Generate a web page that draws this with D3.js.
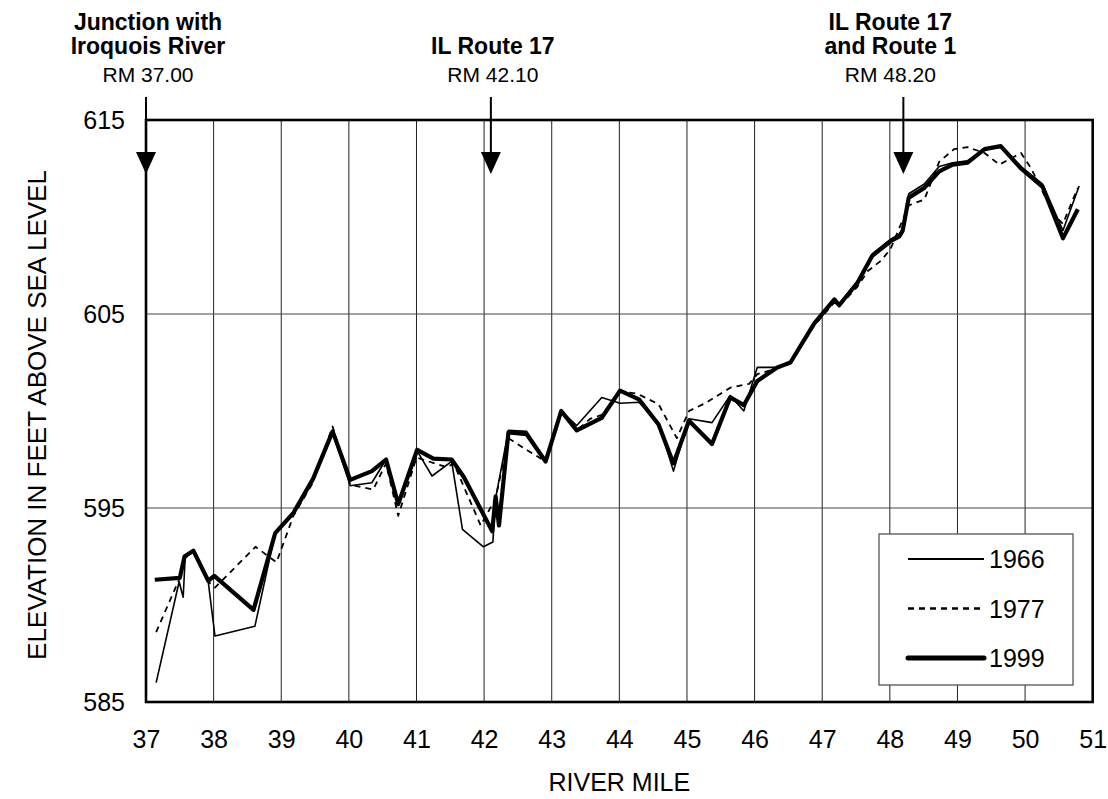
<!DOCTYPE html>
<html>
<head>
<meta charset="utf-8">
<script src="https://cdn.jsdelivr.net/npm/d3@7"></script>
<style>
  body { margin: 0; background: #fff; }
  svg text { font-family: "Liberation Sans", Arial, Helvetica, sans-serif; fill: #000; }
</style>
</head>
<body>
<main></main>
<script>
// river mile / elevation pairs
const profile1966 = [
    [37.15, 586.0], [37.49, 591.2], [37.55, 590.4], [37.58, 592.5], [37.70, 592.8], [37.92, 591.2],
    [38.02, 588.4], [38.61, 588.9], [38.91, 593.7], [39.18, 594.75], [39.47, 596.5], [39.76, 598.9],
    [40.02, 596.15], [40.34, 596.3], [40.55, 597.5], [40.73, 595.2], [41.00, 598.0], [41.23, 596.65],
    [41.52, 597.4], [41.68, 593.9], [41.99, 593.0], [42.13, 593.25], [42.17, 595.5], [42.36, 599.0],
    [42.63, 598.95], [42.91, 597.4], [43.14, 600.0], [43.37, 599.25], [43.74, 600.7], [44.01, 600.4],
    [44.29, 600.45], [44.58, 599.4], [44.80, 596.9], [45.03, 599.6], [45.37, 599.4], [45.64, 600.8],
    [45.84, 600.0], [46.04, 602.25], [46.34, 602.25], [46.53, 602.55], [46.88, 604.5], [47.18, 605.8],
    [47.25, 605.5], [47.52, 606.7], [47.74, 608.1], [48.01, 608.85], [48.14, 609.1], [48.19, 609.4],
    [48.28, 611.2], [48.51, 611.7], [48.73, 612.6], [48.93, 612.8], [49.15, 612.9], [49.40, 613.5],
    [49.64, 613.6], [49.94, 612.6], [50.26, 611.7], [50.56, 609.3], [50.80, 611.6]
];

const profile1977 = [
    [37.15, 588.6], [37.50, 591.4], [37.57, 592.4], [37.70, 592.75], [37.92, 591.2], [38.02, 590.9],
    [38.62, 593.0], [38.93, 592.2], [39.18, 594.6], [39.45, 596.2], [39.76, 599.2], [40.02, 596.2],
    [40.36, 595.95], [40.55, 597.3], [40.73, 594.6], [41.00, 597.6], [41.45, 597.1], [41.55, 597.3],
    [41.95, 594.1], [42.17, 595.5], [42.36, 598.6], [42.65, 597.95], [42.91, 597.4], [43.14, 599.9],
    [43.37, 599.0], [43.57, 599.6], [43.74, 599.8], [44.01, 601.0], [44.26, 600.9], [44.58, 600.35],
    [44.85, 598.6], [45.03, 600.0], [45.27, 600.4], [45.64, 601.2], [45.92, 601.4], [46.04, 601.9],
    [46.34, 602.2], [46.53, 602.45], [46.88, 604.4], [47.18, 605.6], [47.25, 605.4], [47.52, 606.4],
    [47.67, 607.2], [47.87, 607.75], [48.01, 608.35], [48.16, 609.6], [48.28, 610.6], [48.51, 610.9],
    [48.73, 612.85], [48.95, 613.5], [49.15, 613.6], [49.40, 613.3], [49.62, 612.7], [49.94, 613.3],
    [50.09, 612.5], [50.43, 610.1], [50.56, 609.65], [50.66, 610.5], [50.78, 611.5]
];

const profile1999 = [
    [37.13, 591.3], [37.50, 591.4], [37.57, 592.5], [37.70, 592.8], [37.92, 591.25], [38.01, 591.5],
    [38.59, 589.75], [38.91, 593.7], [39.18, 594.75], [39.47, 596.5], [39.76, 598.95], [40.02, 596.45],
    [40.34, 596.9], [40.55, 597.5], [40.73, 595.2], [41.01, 598.0], [41.25, 597.55], [41.52, 597.5],
    [41.70, 596.6], [42.12, 593.8], [42.17, 595.6], [42.22, 594.1], [42.36, 598.9], [42.63, 598.8],
    [42.91, 597.4], [43.14, 600.0], [43.37, 599.0], [43.74, 599.65], [44.01, 601.05], [44.29, 600.6],
    [44.58, 599.3], [44.80, 597.3], [45.03, 599.5], [45.37, 598.3], [45.64, 600.7], [45.84, 600.3],
    [46.04, 601.55], [46.34, 602.25], [46.53, 602.5], [46.88, 604.5], [47.18, 605.75], [47.25, 605.45],
    [47.52, 606.6], [47.74, 608.0], [48.01, 608.75], [48.14, 609.0], [48.19, 609.3], [48.28, 611.0],
    [48.51, 611.5], [48.73, 612.35], [48.93, 612.7], [49.15, 612.8], [49.40, 613.5], [49.64, 613.65],
    [49.94, 612.5], [50.26, 611.55], [50.56, 608.9], [50.78, 610.4]
];

const years = ["1966", "1977", "1999"];
const xTicks = d3.range(37, 52);
const yTicks = [585, 595, 605, 615];

// landmarks marked with arrows above the plot
const landmarks = [
    {mile: 37.0, lines: ["Junction with", "Iroquois River"], rm: "RM 37.00"},
    {mile: 42.1, lines: ["IL Route 17"], rm: "RM 42.10"},
    {mile: 48.2, lines: ["IL Route 17", "and Route 1"], rm: "RM 48.20"}
];

const drawChart = () => {

    const margin = {top: 120, right: 15.3, bottom: 97, left: 146},
        outerWidth = 1108,
        outerHeight = 799,
        width = outerWidth - margin.left - margin.right,
        height = outerHeight - margin.top - margin.bottom;

    const root = d3.select("main").append("svg")
        .attr("width", outerWidth)
        .attr("height", outerHeight);

    const svg = root.append("g")
        .attr("transform", "translate(" + margin.left + "," + margin.top + ")");

    const xScale = d3.scaleLinear().domain([37, 51]).range([0, width]);
    const yScale = d3.scaleLinear().domain([585, 615]).range([height, 0]);

    // grid
    svg.selectAll(".vgrid")
        .data(xTicks.slice(1, -1))
        .enter()
        .append("line")
        .attr("x1", d => xScale(d)).attr("x2", d => xScale(d))
        .attr("y1", 0).attr("y2", height)
        .attr("stroke", "#222").attr("stroke-width", 1);

    svg.selectAll(".hgrid")
        .data(yTicks.slice(1, -1))
        .enter()
        .append("line")
        .attr("x1", 0).attr("x2", width)
        .attr("y1", d => yScale(d)).attr("y2", d => yScale(d))
        .attr("stroke", "#444").attr("stroke-width", 1);

    const xAxis = d3.axisBottom(xScale).tickValues(xTicks).tickSize(0).tickPadding(28).tickFormat(d3.format("d"));
    const yAxis = d3.axisLeft(yScale).tickValues(yTicks).tickSize(0).tickPadding(21).tickFormat(d3.format("d"));

    svg.append("g")
        .attr("transform", "translate(0," + height + ")")
        .call(xAxis)
        .call(g => g.select(".domain").remove())
        .selectAll("text").attr("font-size", 25).attr("font-family", null);

    svg.append("g")
        .call(yAxis)
        .call(g => g.select(".domain").remove())
        .selectAll("text").attr("font-size", 25).attr("font-family", null);

    const line = d3.line()
        .x(d => xScale(d[0]))
        .y(d => yScale(d[1]));

    const styles = {
        "1966": {width: 1.6, dash: null, data: profile1966},
        "1977": {width: 1.8, dash: "6,5", data: profile1977},
        "1999": {width: 4.2, dash: null, data: profile1999}
    };

    ["1999", "1977", "1966"].forEach(y => {
        svg.append("path")
            .datum(styles[y].data)
            .attr("fill", "none")
            .attr("stroke", "#000")
            .attr("stroke-width", styles[y].width)
            .attr("stroke-dasharray", styles[y].dash)
            .attr("stroke-linejoin", "round")
            .attr("d", line);
    });

    // frame
    svg.append("rect")
        .attr("width", width).attr("height", height)
        .attr("fill", "none").attr("stroke", "#000").attr("stroke-width", 2.6);

    // legend
    const legend = svg.append("g")
        .attr("transform", "translate(" + (879 - margin.left) + "," + (534 - margin.top) + ")");

    legend.append("rect")
        .attr("width", 194).attr("height", 151)
        .attr("fill", "#fff").attr("stroke", "#555").attr("stroke-width", 1.3);

    years.forEach((y, i) => {
        const ly = 25 + i * 49.5;
        legend.append("line")
            .attr("x1", 29).attr("x2", 105)
            .attr("y1", ly).attr("y2", ly)
            .attr("stroke", "#000")
            .attr("stroke-width", y === "1999" ? 5 : styles[y].width + 0.6)
            .attr("stroke-linecap", y === "1999" ? "round" : "butt")
            .attr("stroke-dasharray", styles[y].dash);
        legend.append("text")
            .attr("x", 110).attr("y", ly)
            .attr("dy", "0.36em")
            .attr("font-size", 25)
            .text(y);
    });

    // axis titles
    root.append("text")
        .attr("x", margin.left + width / 2)
        .attr("y", 791)
        .attr("text-anchor", "middle")
        .attr("font-size", 25)
        .text("RIVER MILE");

    root.append("text")
        .attr("transform", "translate(46,415) rotate(-90)")
        .attr("text-anchor", "middle")
        .attr("font-size", 26)
        .text("ELEVATION IN FEET ABOVE SEA LEVEL");

    // landmark arrows and labels
    landmarks.forEach(lm => {
        const ax = margin.left + xScale(lm.mile);
        root.append("line")
            .attr("x1", ax).attr("x2", ax)
            .attr("y1", 97).attr("y2", 156)
            .attr("stroke", "#000").attr("stroke-width", 2);
        root.append("path")
            .attr("d", "M" + (ax - 10) + ",152L" + (ax + 10) + ",152L" + ax + ",174Z")
            .attr("fill", "#000");

        const cx = lm.mile > 48 ? ax - 13 : ax + 2;
        const first = lm.lines.length === 2 ? 30 : 54;
        lm.lines.forEach((t, i) => {
            root.append("text")
                .attr("x", cx).attr("y", first + i * 24)
                .attr("text-anchor", "middle")
                .attr("font-size", 23)
                .attr("font-weight", "bold")
                .text(t);
        });
        root.append("text")
            .attr("x", cx).attr("y", 82)
            .attr("text-anchor", "middle")
            .attr("font-size", 21)
            .text(lm.rm);
    });
}

drawChart();
</script>
</body>
</html>
